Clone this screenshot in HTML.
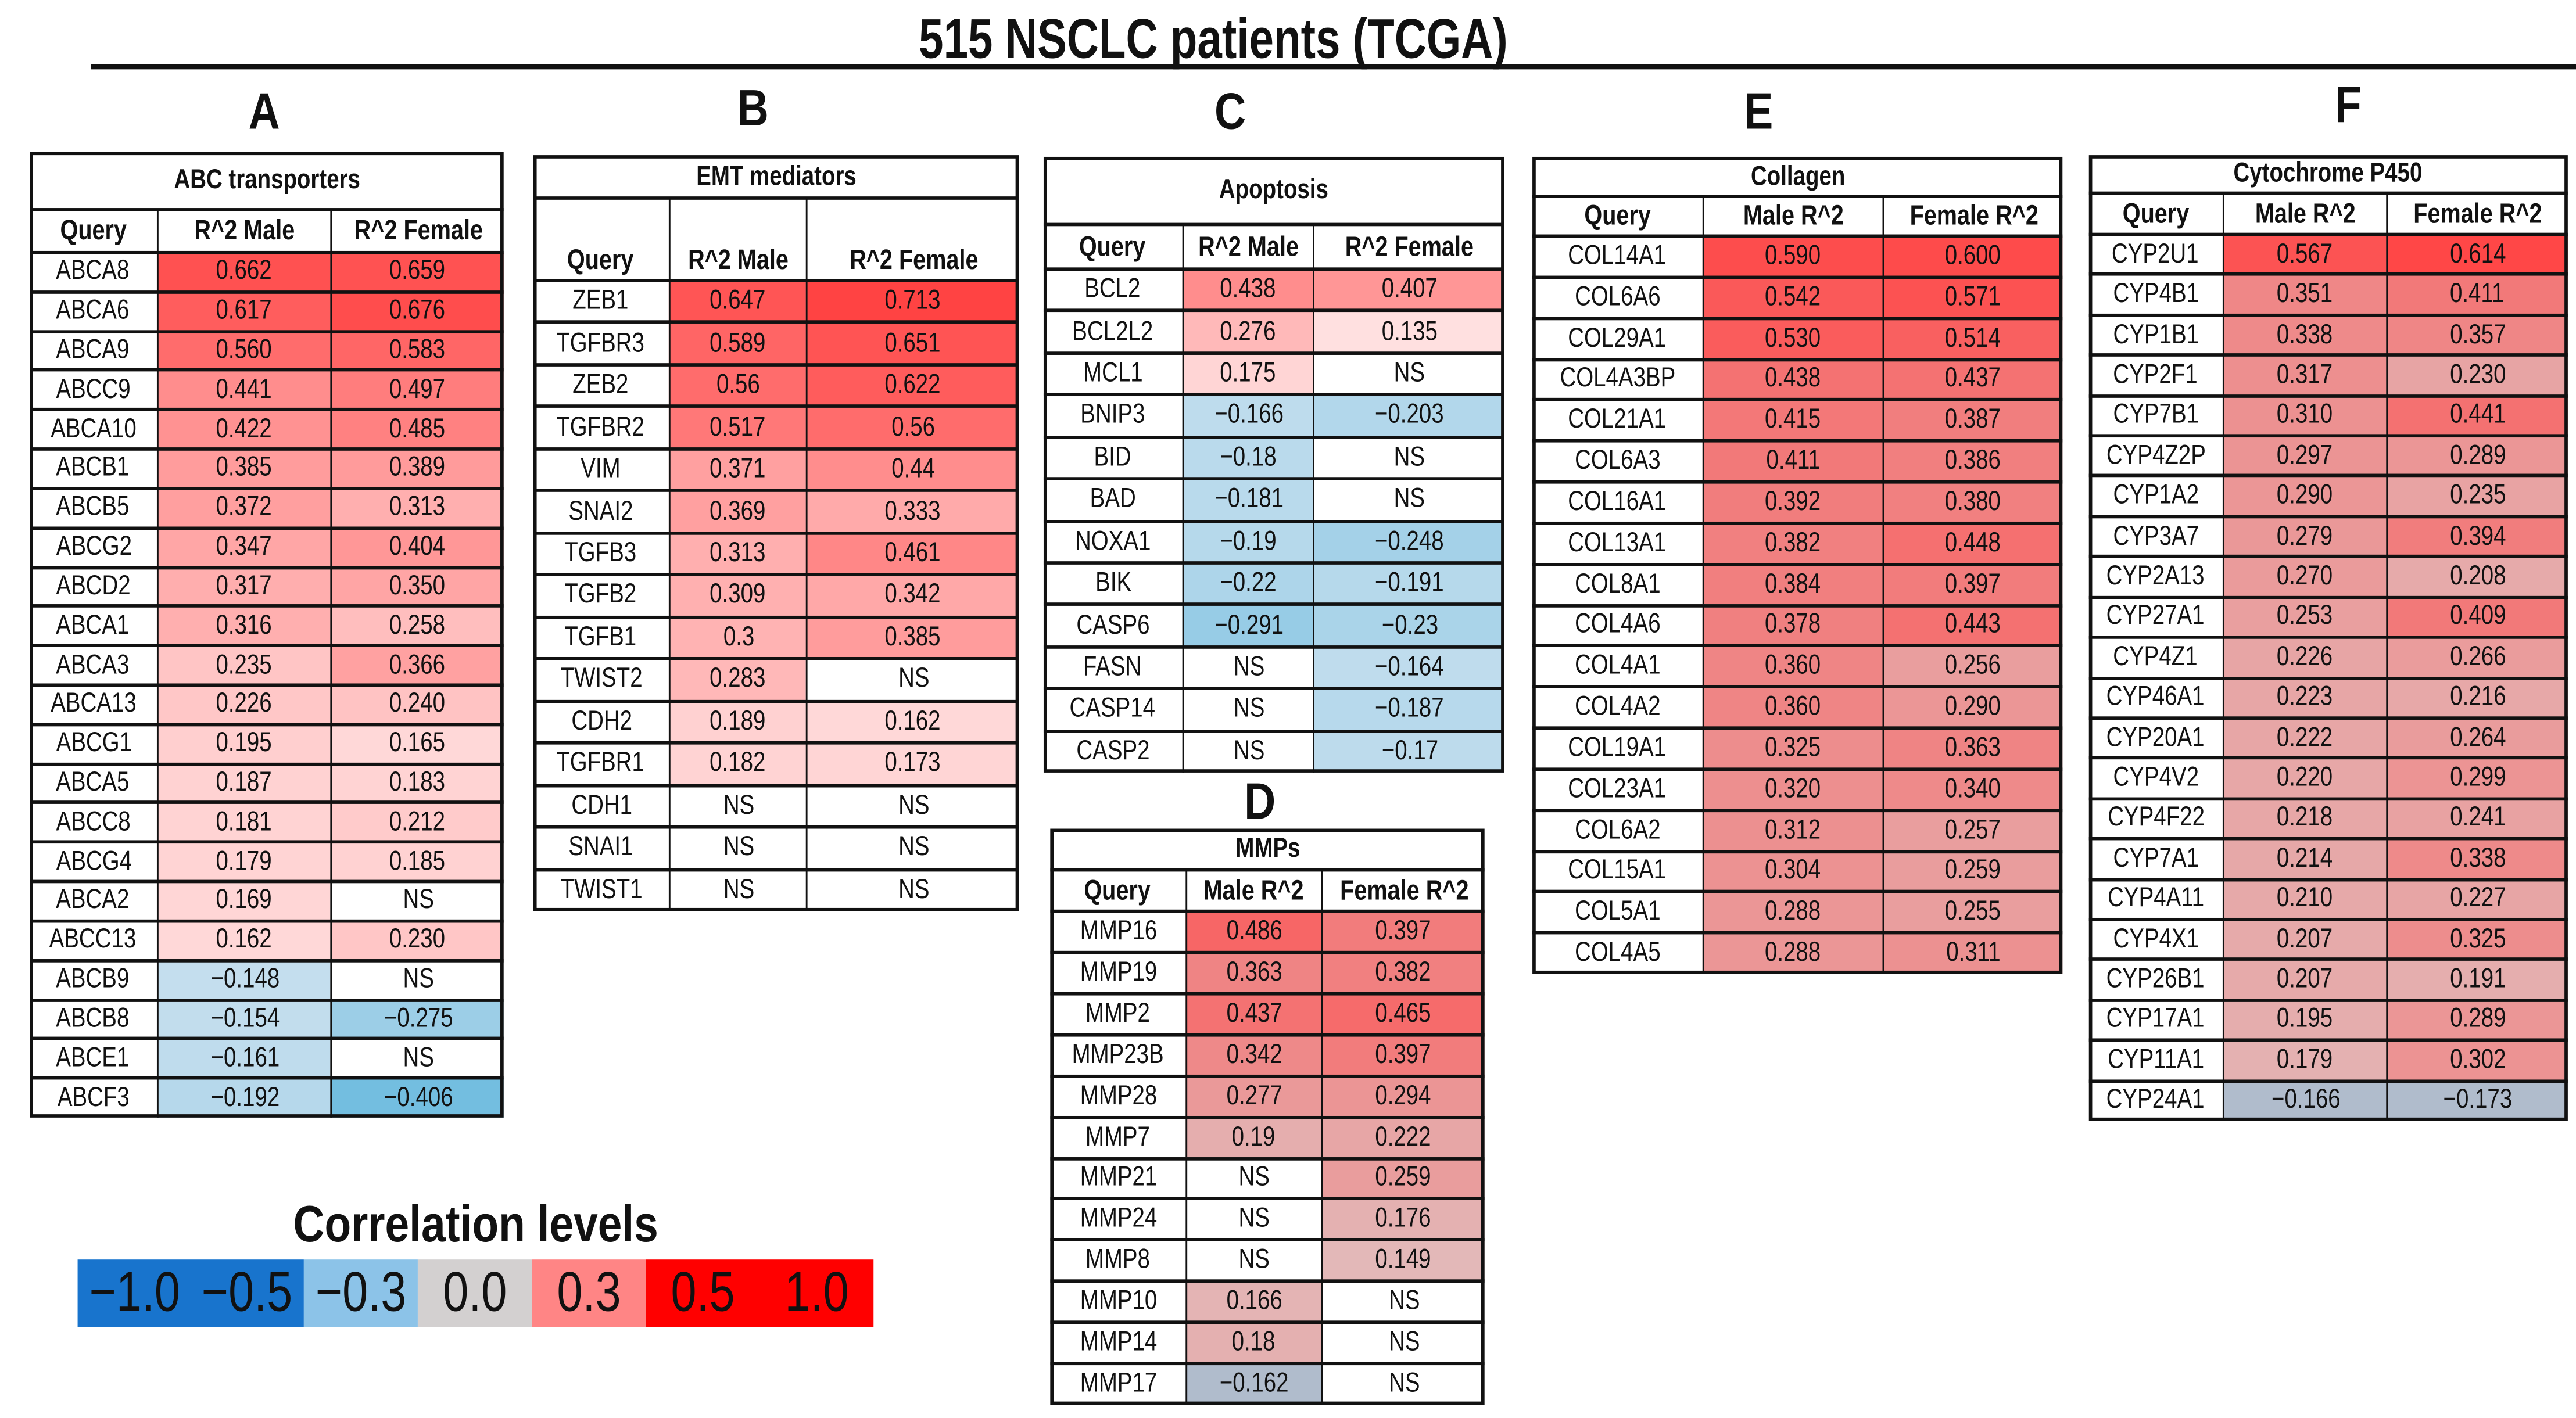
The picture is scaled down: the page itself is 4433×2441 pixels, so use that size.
<!DOCTYPE html>
<html><head><meta charset="utf-8">
<style>
html,body{margin:0;padding:0;background:#fff;}
body{width:4433px;height:2441px;overflow:hidden;position:relative;}
#stage{position:absolute;left:0;top:0;width:1560px;height:859px;transform:scale(2.8417);transform-origin:0 0;font-family:"Liberation Sans Narrow","Liberation Sans",sans-serif;color:#111;}
.abs{position:absolute;}
.cell{position:absolute;box-sizing:border-box;display:flex;align-items:center;justify-content:center;font-size:16.5px;white-space:nowrap;}
.cell span,.sq{display:inline-block;transform:scaleX(0.82);}
.hline{position:absolute;background:#111;}
.big{font-weight:bold;font-size:31px;position:absolute;transform:translateX(-50%) scaleX(0.85);}
</style></head>
<body>
<div id="stage">
  <div class="abs" style="left:500px;top:4px;width:470px;text-align:center;font-weight:bold;font-size:34px;line-height:40px;white-space:nowrap;"><span class="sq" style="transform:scaleX(0.79);">515 NSCLC patients (TCGA)</span></div>
  <div class="hline" style="left:55px;top:39px;width:1505px;height:3px;"></div>
  <div class="big" style="left:160px;top:50px;">A</div>
  <div class="big" style="left:456px;top:48px;">B</div>
  <div class="big" style="left:745px;top:50px;">C</div>
  <div class="big" style="left:763px;top:468px;">D</div>
  <div class="big" style="left:1065px;top:50px;">E</div>
  <div class="big" style="left:1422px;top:46px;">F</div>

  <div class="abs" style="left:100px;top:722px;width:376px;text-align:center;font-weight:bold;font-size:31px;line-height:40px;white-space:nowrap;"><span class="sq" style="transform:scaleX(0.85);">Correlation levels</span></div>
  <div class="abs" style="left:47px;top:763px;width:482px;height:41px;">
    <div class="cell" style="left:0;top:0;width:137px;height:41px;background:#1874cd;font-size:34px;justify-content:space-around;"><span>−1.0</span><span>−0.5</span></div>
    <div class="cell" style="left:137px;top:0;width:69px;height:41px;background:#8cc3e8;font-size:34px;"><span>−0.3</span></div>
    <div class="cell" style="left:206px;top:0;width:69px;height:41px;background:#d3d0d0;font-size:34px;"><span>0.0</span></div>
    <div class="cell" style="left:275px;top:0;width:69px;height:41px;background:#ff8585;font-size:34px;"><span>0.3</span></div>
    <div class="cell" style="left:344px;top:0;width:138px;height:41px;background:#ff0000;font-size:34px;justify-content:space-around;"><span>0.5</span><span>1.0</span></div>
  </div>
</div>
<script>
// ---- data ----
const genesA=["ABCA8","ABCA6","ABCA9","ABCC9","ABCA10","ABCB1","ABCB5","ABCG2","ABCD2","ABCA1","ABCA3","ABCA13","ABCG1","ABCA5","ABCC8","ABCG4","ABCA2","ABCC13","ABCB9","ABCB8","ABCE1","ABCF3"];
const maleA=["0.662","0.617","0.560","0.441","0.422","0.385","0.372","0.347","0.317","0.316","0.235","0.226","0.195","0.187","0.181","0.179","0.169","0.162","−0.148","−0.154","−0.161","−0.192"];
const femaleA=["0.659","0.676","0.583","0.497","0.485","0.389","0.313","0.404","0.350","0.258","0.366","0.240","0.165","0.183","0.212","0.185","NS","0.230","NS","−0.275","NS","−0.406"];
const genesB=["ZEB1","TGFBR3","ZEB2","TGFBR2","VIM","SNAI2","TGFB3","TGFB2","TGFB1","TWIST2","CDH2","TGFBR1","CDH1","SNAI1","TWIST1"];
const maleB=["0.647","0.589","0.56","0.517","0.371","0.369","0.313","0.309","0.3","0.283","0.189","0.182","NS","NS","NS"];
const femaleB=["0.713","0.651","0.622","0.56","0.44","0.333","0.461","0.342","0.385","NS","0.162","0.173","NS","NS","NS"];
const genesC=["BCL2","BCL2L2","MCL1","BNIP3","BID","BAD","NOXA1","BIK","CASP6","FASN","CASP14","CASP2"];
const maleC=["0.438","0.276","0.175","−0.166","−0.18","−0.181","−0.19","−0.22","−0.291","NS","NS","NS"];
const femaleC=["0.407","0.135","NS","−0.203","NS","NS","−0.248","−0.191","−0.23","−0.164","−0.187","−0.17"];
const genesD=["MMP16","MMP19","MMP2","MMP23B","MMP28","MMP7","MMP21","MMP24","MMP8","MMP10","MMP14","MMP17"];
const maleD=["0.486","0.363","0.437","0.342","0.277","0.19","NS","NS","NS","0.166","0.18","−0.162"];
const femaleD=["0.397","0.382","0.465","0.397","0.294","0.222","0.259","0.176","0.149","NS","NS","NS"];
const genesE=["COL14A1","COL6A6","COL29A1","COL4A3BP","COL21A1","COL6A3","COL16A1","COL13A1","COL8A1","COL4A6","COL4A1","COL4A2","COL19A1","COL23A1","COL6A2","COL15A1","COL5A1","COL4A5"];
const maleE=["0.590","0.542","0.530","0.438","0.415","0.411","0.392","0.382","0.384","0.378","0.360","0.360","0.325","0.320","0.312","0.304","0.288","0.288"];
const femaleE=["0.600","0.571","0.514","0.437","0.387","0.386","0.380","0.448","0.397","0.443","0.256","0.290","0.363","0.340","0.257","0.259","0.255","0.311"];
const genesF=["CYP2U1","CYP4B1","CYP1B1","CYP2F1","CYP7B1","CYP4Z2P","CYP1A2","CYP3A7","CYP2A13","CYP27A1","CYP4Z1","CYP46A1","CYP20A1","CYP4V2","CYP4F22","CYP7A1","CYP4A11","CYP4X1","CYP26B1","CYP17A1","CYP11A1","CYP24A1"];
const maleF=["0.567","0.351","0.338","0.317","0.310","0.297","0.290","0.279","0.270","0.253","0.226","0.223","0.222","0.220","0.218","0.214","0.210","0.207","0.207","0.195","0.179","−0.166"];
const femaleF=["0.614","0.411","0.357","0.230","0.441","0.289","0.235","0.394","0.208","0.409","0.266","0.216","0.264","0.299","0.241","0.338","0.227","0.325","0.191","0.289","0.302","−0.173"];

function num(s){return parseFloat(String(s).replace('−','-'));}
function clamp(t){return Math.max(0,Math.min(1,t));}
function color(s,muted){
  if(s==="NS")return "#ffffff";
  const v=num(s);
  if(muted){
    if(v<0)return "rgb(176,188,204)";
    const t=clamp((v-0.14)/0.48);
    const r=Math.round(226+29*t),g=Math.round(186-116*t);
    return `rgb(${r},${g},${g})`;
  }
  if(v<0){
    const t=clamp((Math.abs(v)-0.14)/0.27);
    return `rgb(${Math.round(198-84*t)},${Math.round(223-34*t)},${Math.round(238-14*t)})`;
  }
  const t=clamp((v-0.13)/0.59);
  const g=Math.round(225-160*t);
  return `rgb(255,${g},${g})`;
}
const stage=document.getElementById('stage');
function mk(cls,l,t,w,h){const d=document.createElement('div');d.className=cls;d.style.left=l+'px';d.style.top=t+'px';d.style.width=w+'px';d.style.height=h+'px';stage.appendChild(d);return d;}
function txt(d,s){const sp=document.createElement('span');sp.textContent=s;d.appendChild(sp);}
function table(id,title,heads,genes,male,female,x,top,titleH,headH,bottom,cols,muted){
  const n=genes.length,rowH=(bottom-top-titleH-headH)/n,W=cols[3]-cols[0];
  const box=mk('abs',x,top,W,bottom-top);
  
  
  box.style.border='2px solid #111';box.style.boxSizing='border-box';box.style.zIndex=3;
  const tt=mk('cell',x,top,W,titleH);
  
  
  txt(tt,title);tt.style.fontWeight='bold';
  const hy=top+titleH;
  for(let c=0;c<3;c++){
    const h=mk('cell',cols[c],hy,cols[c+1]-cols[c],headH);
    
    
    txt(h,heads[c]);h.style.fontWeight='bold';h.style.fontSize='17px';
    if(headH>35){h.style.alignItems='flex-end';h.style.paddingBottom='2px';}
    h.style.borderLeft=c?'1.5px solid #111':'none';
  }
  const l1=mk('hline',x,hy-1,W,2);
  for(let i=0;i<n;i++){
    const y=hy+headH+i*rowH;
    const vals=[genes[i],male[i],female[i]];
    for(let c=0;c<3;c++){
      const d=mk('cell',cols[c],y,cols[c+1]-cols[c],rowH);
      
      
      txt(d,vals[c]);
      d.style.background=c?color(vals[c],muted):'#fff';
      d.style.borderLeft=c?'1.5px solid #111':'none';
    }
    const r=mk('hline',x,y-1,W,2);
    
    
  }
}
table('abc','ABC transporters',['Query','R^2 Male','R^2 Female'],genesA,maleA,femaleA,18,92,35,26,677,[18,95,200,305],false);
table('emt','EMT mediators',['Query','R^2 Male','R^2 Female'],genesB,maleB,femaleB,323,94,26,50,552,[323,405,488,617],false);
table('apoptosis','Apoptosis',['Query','R^2 Male','R^2 Female'],genesC,maleC,femaleC,632,95,41,27,468,[632,716,795,911],false);
table('mmp','MMPs',['Query','Male R^2','Female R^2'],genesD,maleD,femaleD,636,502,25,25,851,[636,718,800,899],true);
table('collagen','Collagen',['Query','Male R^2','Female R^2'],genesE,maleE,femaleE,928,95,24,24,590,[928,1031,1140,1249],true);
table('cyp','Cytochrome P450',['Query','Male R^2','Female R^2'],genesF,maleF,femaleF,1265,94,23,25,679,[1265,1346,1445,1555],true);
</script>
</body></html>
